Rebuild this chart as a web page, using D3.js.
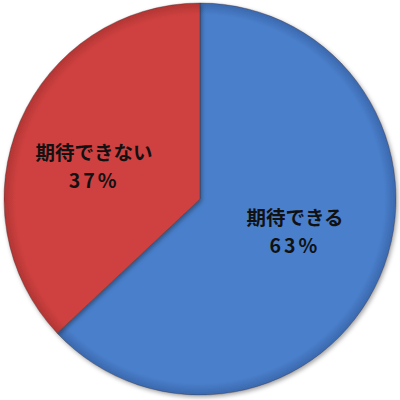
<!DOCTYPE html>
<html>
<head>
<meta charset="utf-8">
<script src="https://cdn.jsdelivr.net/npm/d3@7"></script>
<style>
  html, body { margin: 0; padding: 0; background: #fff; }
  #chart { width: 400px; height: 400px; }
</style>
</head>
<body>
<div id="chart"></div>
<script>
const labels = ['期待できる', '期待できない']
const values = [63, 37]
const colors = ['#4a7fcb', '#cf4140']
const edgeColors = ['#3a68ad', '#b23534']

const SIZE = Object.freeze({ WIDTH: 400, HEIGHT: 400, CX: 200, CY: 199, R: 196 })

const dataset = labels.map((label, i) => ({ label, value: values[i], color: colors[i], edge: edgeColors[i] }))

const buildChart = (data) => {
  const svg = d3.select('#chart')
    .append('svg')
    .attr('width', SIZE.WIDTH)
    .attr('height', SIZE.HEIGHT)

  const defs = svg.append('defs')
  data.forEach((d, i) => {
    const grad = defs.append('radialGradient')
      .attr('id', `grad${i}`)
      .attr('gradientUnits', 'userSpaceOnUse')
      .attr('cx', 0).attr('cy', 0).attr('r', SIZE.R)
    grad.append('stop').attr('offset', '0%').attr('stop-color', d.color)
    grad.append('stop').attr('offset', '94%').attr('stop-color', d.color)
    grad.append('stop').attr('offset', '100%').attr('stop-color', d.edge)
  })
  const shadow = defs.append('filter').attr('id', 'shadow')
    .attr('x', '-10%').attr('y', '-10%').attr('width', '120%').attr('height', '120%')
  shadow.append('feDropShadow')
    .attr('dx', 1.5).attr('dy', 2).attr('stdDeviation', 2)
    .attr('flood-color', '#000').attr('flood-opacity', 0.35)

  const pie = d3.pie().sort(null).value(d => d.value)
  const arc = d3.arc().innerRadius(0).outerRadius(SIZE.R)
  const labelArc = d3.arc().innerRadius(SIZE.R * 0.5).outerRadius(SIZE.R * 0.5)

  const g = svg.append('g')
    .attr('transform', `translate(${SIZE.CX}, ${SIZE.CY})`)

  g.selectAll('path')
    .data(pie(data))
    .enter()
    .append('path')
    .attr('d', arc)
    .attr('fill', (d, i) => `url(#grad${i})`)
    .attr('stroke', '#3a2a2a')
    .attr('stroke-opacity', 0.45)
    .attr('stroke-width', 0.8)
    .attr('filter', 'url(#shadow)')

  // label offsets
  const offsets = [[5, -8], [-16, 5]]
  const labelG = g.selectAll('.label')
    .data(pie(data))
    .enter()
    .append('text')
    .attr('class', 'label')
    .attr('text-anchor', 'middle')
    .attr('font-family', '"Noto Sans CJK JP", sans-serif')
    .attr('font-weight', 'bold')
    .attr('font-size', 19.5)
    .attr('fill', '#111')
    .attr('transform', (d, i) => {
      const [x, y] = labelArc.centroid(d)
      return `translate(${x + offsets[i][0]}, ${y + offsets[i][1]})`
    })

  labelG.append('tspan')
    .attr('x', 0)
    .attr('dy', '-0.25em')
    .text(d => d.data.label)
  labelG.append('tspan')
    .attr('x', 0)
    .attr('dy', '1.43em')
    .attr('letter-spacing', 3)
    .text(d => `${d.data.value}%`)
}

buildChart(dataset)
</script>
</body>
</html>
